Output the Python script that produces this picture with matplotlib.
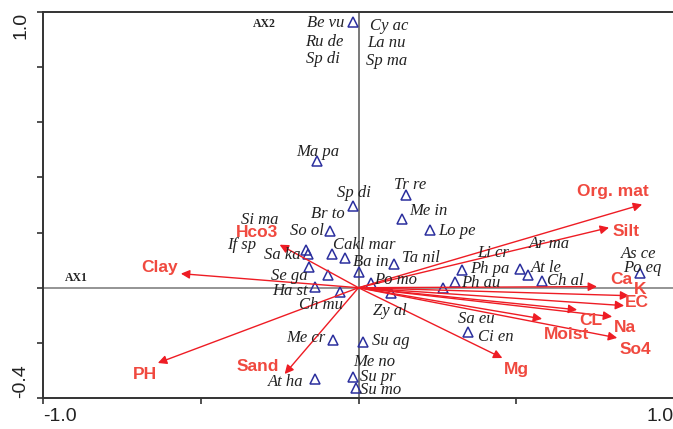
import matplotlib
matplotlib.use("Agg")
import matplotlib.pyplot as plt

# species scores (triangles)
sp_x = [-0.019, -0.133, -0.016, 0.152, 0.139, 0.228, -0.089, -0.165, -0.161,
        -0.085, -0.044, 0.114, 0.0, -0.158, -0.098, 0.041, -0.139, -0.060,
        0.104, -0.082, 0.013, -0.019, -0.009, -0.139, 0.329, 0.307, 0.269,
        0.513, 0.538, 0.582, 0.892, 0.348]
sp_y = [0.964, 0.458, 0.298, 0.335, 0.251, 0.211, 0.207, 0.138, 0.124,
        0.124, 0.109, 0.087, 0.058, 0.076, 0.047, 0.018, 0.004, -0.015,
        -0.018, -0.189, -0.196, -0.324, -0.364, -0.331, 0.065, 0.022, 0.0,
        0.069, 0.047, 0.025, 0.055, -0.160]

# species names and where they are written
sp_names = ["Be vu", "Ru de", "Sp di", "Cy ac", "La nu", "Sp ma", "Ma pa",
            "Sp di", "Tr re", "Br to", "Me in", "Lo pe", "Si ma", "If sp",
            "So ol", "Cakl mar", "Sa ka", "Ba in", "Ta nil", "Se ga", "Po mo",
            "Ha st", "Ch mu", "Zy al", "Me cr", "Su ag", "Me no", "Su pr",
            "Su mo", "At ha", "Li cr", "Ph pa", "Ph au", "Ar ma", "At le",
            "Ch al", "As ce", "Po eq", "Sa eu", "Ci en"]
name_x = [-0.104, -0.108, -0.114, 0.098, 0.089, 0.089, -0.130, -0.013, 0.165,
          -0.098, 0.222, 0.313, -0.313, -0.370, -0.165, 0.019, -0.241, 0.038,
          0.199, -0.218, 0.117, -0.218, -0.120, 0.101, -0.168, 0.101, 0.051,
          0.060, 0.070, -0.231, 0.427, 0.415, 0.389, 0.604, 0.595, 0.655,
          0.889, 0.899, 0.373, 0.434]
name_y = [0.960, 0.891, 0.829, 0.949, 0.887, 0.822, 0.491, 0.345, 0.371,
          0.269, 0.280, 0.207, 0.247, 0.156, 0.207, 0.156, 0.120, 0.095,
          0.109, 0.044, 0.029, -0.011, -0.062, -0.084, -0.182, -0.193, -0.269,
          -0.324, -0.371, -0.342, 0.127, 0.069, 0.018, 0.160, 0.073, 0.025,
          0.124, 0.073, -0.113, -0.178]

# environmental variables (arrow tips and label places)
env_names = ["Org. mat", "Silt", "Ca", "K", "EC", "CL", "Na", "Moist", "So4",
             "Mg", "Sand", "PH", "Clay", "Hco3"]
env_x = [0.899, 0.794, 0.756, 0.858, 0.842, 0.693, 0.804, 0.582, 0.820,
         0.456, -0.234, -0.636, -0.563, -0.250]
env_y = [0.302, 0.218, 0.004, -0.029, -0.065, -0.080, -0.105, -0.113, -0.182,
         -0.255, -0.313, -0.273, 0.051, 0.156]
env_lx = [0.807, 0.848, 0.832, 0.892, 0.883, 0.737, 0.845, 0.658, 0.877,
          0.500, -0.320, -0.677, -0.630, -0.323]
env_ly = [0.349, 0.204, 0.029, -0.007, -0.055, -0.120, -0.145, -0.171, -0.225,
          -0.295, -0.287, -0.313, 0.073, 0.200]

arrow_col = "#ee1c24"
label_col = "#f0493f"
tri_col = "#2b2f9e"

fig = plt.figure(figsize=(6.73, 4.29), dpi=100)
ax = fig.add_axes([43 / 673, 31 / 429, 631 / 673, 386 / 429])
ax.set_xlim(-1.0, 1.0)
ax.set_ylim(-0.4, 1.0)

ax.axhline(0, color="#777777", lw=1.1, zorder=1)
ax.axvline(0, color="#555555", lw=1.1, zorder=1)

for i in range(len(env_names)):
    ax.annotate("", xy=(env_x[i], env_y[i]), xytext=(0, 0),
                arrowprops=dict(arrowstyle="-|>", color=arrow_col, lw=1.0,
                                mutation_scale=13, shrinkA=0, shrinkB=0),
                zorder=3)
    ax.text(env_lx[i], env_ly[i], env_names[i], color=label_col,
            fontsize=12.5, fontweight="bold", family="Liberation Sans",
            ha="center", va="center", zorder=4)

ax.plot(sp_x, sp_y, linestyle="none", marker="^", markersize=7,
        markerfacecolor="none", markeredgecolor=tri_col, markeredgewidth=1.1,
        zorder=2)

for i in range(len(sp_names)):
    ax.text(name_x[i], name_y[i], sp_names[i], color="#222222", fontsize=12,
            style="italic", family="Liberation Serif", ha="center",
            va="center", zorder=4)

ax.text(-0.930, 0.036, "AX1", fontsize=8.5, fontweight="bold",
        family="Liberation Serif", ha="left", va="center", color="#222222")
ax.text(-0.335, 0.956, "AX2", fontsize=8.5, fontweight="bold",
        family="Liberation Serif", ha="left", va="center", color="#222222")

for s in ["left", "top", "bottom"]:
    ax.spines[s].set_color("#333333")
    ax.spines[s].set_linewidth(1.4)
ax.spines["right"].set_visible(False)

ax.set_xticks([-1.0, -0.5, 0.0, 0.5, 1.0])
ax.set_xticklabels(["-1.0", "", "", "", "1.0"])
ax.set_yticks([-0.4, -0.2, 0.0, 0.2, 0.4, 0.6, 0.8, 1.0])
ax.set_yticklabels(["-0.4", "", "", "", "", "", "", "1.0"])
ax.tick_params(axis="both", direction="out", length=4, width=1.1,
               labelsize=14, colors="#222222")
ax.tick_params(axis="x", pad=3)
ax.tick_params(axis="y", pad=6)

for lab in ax.get_xticklabels():
    lab.set_family("Liberation Sans")
ax.get_xticklabels()[0].set_ha("left")
ax.get_xticklabels()[-1].set_ha("right")
for lab in ax.get_yticklabels():
    lab.set_family("Liberation Sans")
    lab.set_rotation(90)
ax.get_yticklabels()[0].set_va("bottom")
ax.get_yticklabels()[-1].set_va("top")

fig.savefig("out.png", dpi=100)
